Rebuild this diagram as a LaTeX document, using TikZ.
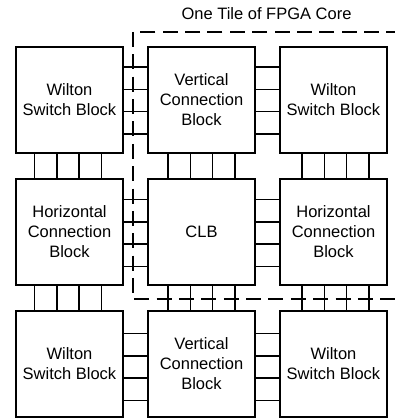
\documentclass[tikz,border=0pt]{standalone}
\usepackage{fontspec}
\setmainfont{Liberation Sans}
\usetikzlibrary{calc}
\begin{document}
\begin{tikzpicture}[x=1pt,y=-1pt,
  blk/.style={draw, line width=1.5pt, minimum width=107pt, minimum height=106pt,
    inner sep=0pt, align=center, font=\fontsize{16.5}{20}\selectfont},
  wire/.style={line width=1.5pt},
  tile/.style={line width=1.8pt, dash pattern=on 15pt off 7.36pt},
  ttl/.style={font=\fontsize{16.5}{20}\selectfont, inner sep=0pt}]
\useasboundingbox (0,0) rectangle (394,420);
\node[ttl] (title) at (266.5,14) {One Tile of FPGA Core};
\node[blk] (sb11) at (69.5,100) {Wilton\\Switch Block};
\node[blk] (vc12) at (201.5,100) {Vertical\\Connection\\Block};
\node[blk] (sb13) at (333.5,100) {Wilton\\Switch Block};
\node[blk] (hc21) at (69.5,232) {Horizontal\\Connection\\Block};
\node[blk] (clb)  at (201.5,232) {CLB};
\node[blk] (hc23) at (333.5,232) {Horizontal\\Connection\\Block};
\node[blk] (sb31) at (69.5,364) {Wilton\\Switch Block};
\node[blk] (vc32) at (201.5,364) {Vertical\\Connection\\Block};
\node[blk] (sb33) at (333.5,364) {Wilton\\Switch Block};
\foreach \o in {-33.5,-11.2,11.2,33.5} {
  % horizontal wires
  \draw[wire] ($(sb11.east)+(0,\o+0.5)$) -- ($(vc12.west)+(0,\o+0.5)$);
  \draw[wire] ($(vc12.east)+(0,\o+0.5)$) -- ($(sb13.west)+(0,\o+0.5)$);
  \draw[wire] ($(hc21.east)+(0,\o+1)$) -- ($(clb.west)+(0,\o+1)$);
  \draw[wire] ($(clb.east)+(0,\o+1)$) -- ($(hc23.west)+(0,\o+1)$);
  \draw[wire] ($(sb31.east)+(0,\o+3)$) -- ($(vc32.west)+(0,\o+3)$);
  \draw[wire] ($(vc32.east)+(0,\o+3)$) -- ($(sb33.west)+(0,\o+3)$);
  % vertical wires
  \draw[wire] ($(sb11.south)+(\o-1.5,0)$) -- ($(hc21.north)+(\o-1.5,0)$);
  \draw[wire] ($(vc12.south)+(\o,0)$) -- ($(clb.north)+(\o,0)$);
  \draw[wire] ($(sb13.south)+(\o+2,0)$) -- ($(hc23.north)+(\o+2,0)$);
  \draw[wire] ($(hc21.south)+(\o-1.5,0)$) -- ($(sb31.north)+(\o-1.5,0)$);
  \draw[wire] ($(clb.south)+(\o,0)$) -- ($(vc32.north)+(\o,0)$);
  \draw[wire] ($(hc23.south)+(\o+2,0)$) -- ($(sb33.north)+(\o+2,0)$);
}
\coordinate (tr) at (401.32,32);
\coordinate (tl) at (133,32);
\coordinate (bl) at (133,299);
\coordinate (br) at (401.32,299);
\draw[tile] (tr) -- (tl) -- (bl) -- (br);
\end{tikzpicture}
\end{document}
